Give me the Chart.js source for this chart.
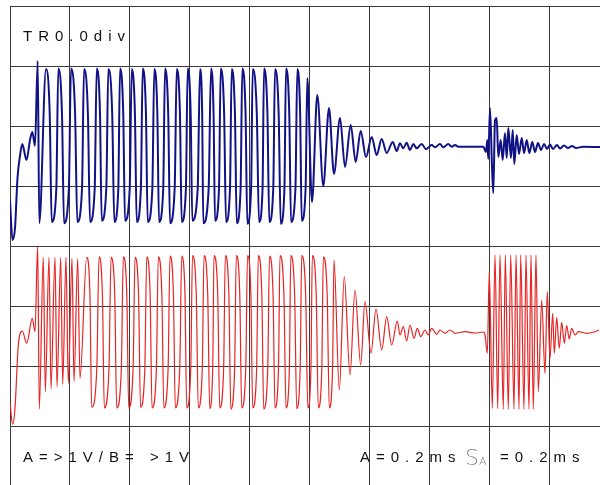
<!DOCTYPE html>
<html>
<head>
<meta charset="utf-8">
<script src="https://cdn.jsdelivr.net/npm/chart.js@4.4.1/dist/chart.umd.min.js"></script>
<style>
  html, body { margin: 0; padding: 0; background: #fff; }
  #scope { display: block; }
</style>
</head>
<body>
<canvas id="scope" width="600" height="485"></canvas>
<script>
// time in ms (0.2 ms/div), level in div (1 V/div), 0 = centre line
var xGrid = [0, 0.2, 0.4, 0.6, 0.8, 1.0, 1.2, 1.4, 1.6, 1.8];
var yGrid = [4, 3, 2, 1, 0, -1, -2, -3];

var labelTop = 'TR0.0div';
var labelVolts = 'A=>1V/B= >1V';
var labelTimeA = 'A=0.2ms';
var labelSample = 'S';
var labelSampleSub = 'A';
var labelTimeS = '=0.2ms';

// channel A (blue)
var aLead = [[0,0.767],[0.0083,0.1],[0.0167,0.3],[0.025,1.133],[0.0333,1.5],[0.041,1.7],[0.055,1.433],[0.0667,1.767],[0.0743,1.9],[0.0833,1.667],[0.0923,3.083],[0.0977,0.383]];
var aPeaks = [[0.12,2.95],[0.161,2.96],[0.2033,2.96],[0.2467,2.95],[0.289,2.96],[0.3277,2.95],[0.3667,2.96],[0.4057,2.95],[0.4423,2.96],[0.481,2.95],[0.5167,2.96],[0.5557,2.95],[0.5923,2.96],[0.6333,2.95],[0.67,2.96],[0.7023,2.96],[0.739,2.95],[0.7743,2.96],[0.809,2.95],[0.8467,2.96],[0.8833,2.95],[0.92,2.96],[0.9577,2.95]];
var aFallKnee = [[0.1324,2.2],[0.1734,2.18],[0.217,2.2],[0.2597,2.2],[0.2999,2.22],[0.3407,2.2],[0.3775,2.2],[0.4165,2.18],[0.4532,2.2],[0.4912,2.2],[0.5275,2.18],[0.5665,2.2],[0.6023,2.2],[0.6405,2.22],[0.6786,2.2],[0.7138,2.2],[0.7499,2.18],[0.7852,2.2],[0.8227,2.2],[0.8581,2.2],[0.8957,2.18],[0.9309,2.2],[0.9672,2.2]];
var aTroughs = [[0.139,0.4],[0.18,0.38],[0.2243,0.4],[0.2667,0.4],[0.3057,0.42],[0.3477,0.4],[0.3833,0.42],[0.4223,0.4],[0.459,0.4],[0.4967,0.4],[0.5333,0.38],[0.5723,0.4],[0.6077,0.42],[0.6443,0.38],[0.6833,0.42],[0.72,0.4],[0.7557,0.38],[0.791,0.37],[0.83,0.4],[0.8643,0.4],[0.9023,0.37],[0.9367,0.4],[0.9723,0.42]];
var aRiseKnee = [[0.1544,0.95],[0.1963,0.97],[0.24,0.95],[0.2823,0.95],[0.3211,0.97],[0.361,0.95],[0.399,0.95],[0.4363,0.97],[0.4744,0.95],[0.5107,0.95],[0.549,0.97],[0.5863,0.95],[0.6256,0.95],[0.6623,0.97],[0.6966,0.95],[0.7333,0.95],[0.7687,0.97],[0.8036,0.95],[0.8418,0.95],[0.8776,0.97],[0.9147,0.95],[0.9514,0.95],[0.9854,0.97]];
var aDecay = [[0.991,2.8],[1.0067,0.733],[1.0243,2.517],[1.0443,1.0],[1.0633,2.3],[1.08,1.2],[1.1,2.133],[1.1167,1.317],[1.1357,2.017],[1.1523,1.4],[1.169,1.917],[1.1867,1.483],[1.2057,1.817],[1.2223,1.517],[1.239,1.783],[1.2557,1.55],[1.2757,1.733],[1.289,1.583]];
var aRipple = [[1.3,1.712],[1.311,1.628],[1.3223,1.722],[1.3333,1.6],[1.3443,1.7],[1.3557,1.628],[1.3723,1.7],[1.3867,1.612],[1.4057,1.683],[1.4167,1.645],[1.4333,1.7],[1.4443,1.645],[1.461,1.7],[1.4723,1.655],[1.4833,1.683],[1.4943,1.655],[1.5777,1.655]];
var aBurst = [[1.5867,1.567],[1.591,1.767],[1.5943,1.45],[1.6,2.3],[1.6067,1.317],[1.611,0.883],[1.6167,2.1],[1.6223,2.133],[1.6277,1.483],[1.6357,1.767],[1.6423,1.433],[1.65,1.883],[1.6557,1.467],[1.661,1.967],[1.67,1.467],[1.6757,1.933],[1.681,1.367],[1.689,1.85],[1.6967,1.533],[1.7057,1.8],[1.7133,1.55],[1.7223,1.767],[1.731,1.55],[1.741,1.733],[1.75,1.567],[1.76,1.717],[1.77,1.6],[1.78,1.7],[1.79,1.617],[1.8,1.692],[1.81,1.617],[1.8233,1.683],[1.8333,1.625],[1.8467,1.675],[1.86,1.633],[1.8733,1.667],[1.8867,1.633],[1.91,1.655],[1.9667,1.65]];

// channel B (red)
var bLead = [[0,-2.617],[0.009,-2.972],[0.0167,-2.7],[0.0277,-1.65],[0.041,-1.417],[0.0557,-1.622],[0.0743,-1.205],[0.0833,-1.428],[0.0923,0.005],[0.0977,-2.717]];
var bDensePeaks = [[0.111,-0.19],[0.13,-0.19],[0.15,-0.19],[0.169,-0.19],[0.1867,-0.19],[0.2067,-0.2],[0.2257,-0.21],[0.2557,-0.19]];
var bDenseTroughs = [[0.1177,-2.428],[0.1367,-2.383],[0.1567,-2.345],[0.1757,-2.305],[0.1943,-2.288],[0.2133,-2.262],[0.2333,-2.205]];
var bPeaks = [[0.2967,-0.18],[0.3367,-0.19],[0.3777,-0.18],[0.4167,-0.19],[0.4557,-0.18],[0.4943,-0.18],[0.5333,-0.17],[0.5723,-0.17],[0.6083,-0.16],[0.6467,-0.16],[0.68,-0.16],[0.7177,-0.16],[0.7543,-0.16],[0.7917,-0.16],[0.8277,-0.16],[0.865,-0.17],[0.9,-0.16],[0.936,-0.16],[0.9723,-0.16],[1.0077,-0.16],[1.0443,-0.18]];
var bFallKnee = [[0.2665,-0.82],[0.3081,-0.82],[0.3491,-0.8],[0.3894,-0.82],[0.4286,-0.82],[0.4671,-0.8],[0.5063,-0.82],[0.5448,-0.82],[0.5832,-0.8],[0.6209,-0.82],[0.6591,-0.82],[0.6924,-0.8],[0.7296,-0.82],[0.766,-0.82],[0.8029,-0.8],[0.8394,-0.82],[0.8769,-0.82],[0.913,-0.8],[0.9488,-0.82],[0.9856,-0.82],[1.0207,-0.8],[1.0573,-0.82]];
var bTroughs = [[0.2723,-2.69],[0.3143,-2.7],[0.3557,-2.7],[0.3957,-2.7],[0.435,-2.69],[0.4733,-2.7],[0.5127,-2.7],[0.551,-2.7],[0.589,-2.7],[0.6277,-2.7],[0.6657,-2.71],[0.699,-2.7],[0.736,-2.72],[0.7723,-2.7],[0.809,-2.7],[0.8457,-2.72],[0.8833,-2.7],[0.92,-2.7],[0.9557,-2.71],[0.9927,-2.7],[1.0277,-2.7],[1.0643,-2.7]];
var bRiseKnee = [[0.2894,-2.03],[0.33,-2.03],[0.3711,-2.05],[0.4104,-2.03],[0.4495,-2.03],[0.488,-2.05],[0.5271,-2.03],[0.5659,-2.03],[0.6025,-2.05],[0.641,-2.03],[0.6757,-2.03],[0.7121,-2.05],[0.7488,-2.03],[0.7859,-2.03],[0.8221,-2.05],[0.8592,-2.03],[0.895,-2.03],[0.9312,-2.05],[0.9673,-2.03],[1.0032,-2.03],[1.0393,-2.05],[1.0753,-2.03]];
var bDecay = [[1.08,-0.233],[1.0977,-2.4],[1.1143,-0.512],[1.1333,-2.15],[1.15,-0.733],[1.169,-1.983],[1.1833,-0.928],[1.2033,-1.783],[1.22,-1.05],[1.239,-1.733],[1.2557,-1.178],[1.2723,-1.65],[1.291,-1.25]];
var bRipple = [[1.3,-1.483],[1.311,-1.345],[1.3223,-1.583],[1.3333,-1.317],[1.3467,-1.538],[1.3577,-1.372],[1.369,-1.512],[1.3833,-1.4],[1.3943,-1.483],[1.4057,-1.372],[1.4223,-1.472],[1.4333,-1.4],[1.45,-1.455],[1.4667,-1.4],[1.4833,-1.455],[1.5167,-1.428],[1.55,-1.45],[1.5777,-1.433]];
var bBurst = [[1.5833,-1.483],[1.591,-1.788],[1.5977,-0.428],[1.6077,-2.705],[1.6167,-0.15],[1.6257,-2.71],[1.6333,-0.15],[1.6443,-2.72],[1.651,-0.15],[1.661,-2.72],[1.669,-0.15],[1.68,-2.72],[1.6867,-0.15],[1.6967,-2.72],[1.7023,-0.15],[1.7133,-2.72],[1.72,-0.15],[1.73,-2.72],[1.7367,-0.15],[1.7443,-2.72],[1.7533,-0.15]];
var bTail = [[1.761,-2.428],[1.7723,-0.9],[1.7833,-2.122],[1.791,-0.762],[1.8,-1.872],[1.809,-1.122],[1.8143,-1.788],[1.8223,-1.195],[1.831,-1.705],[1.839,-1.272],[1.8477,-1.622],[1.8557,-1.328],[1.8643,-1.55],[1.8723,-1.372],[1.8833,-1.483],[1.8943,-1.428],[1.9223,-1.455],[1.9443,-1.438],[1.9633,-1.4]];

function trace(parts) {
  return [].concat.apply([], parts)
    .sort(function (a, b) { return a[0] - b[0]; })
    .map(function (p) { return {x: p[0], y: p[1]}; });
}

var traceA = trace([aLead, aPeaks, aFallKnee, aTroughs, aRiseKnee, aDecay, aRipple, aBurst]);
var traceB = trace([bLead, bDensePeaks, bDenseTroughs, bPeaks, bFallKnee, bTroughs, bRiseKnee, bDecay, bRipple, bBurst, bTail]);

// screen texts
var screenText = {
  id: 'screenText',
  afterDraw: function (chart) {
    var ctx = chart.ctx;
    ctx.save();
    ctx.fillStyle = '#111';
    ctx.textBaseline = 'alphabetic';
    ctx.font = '15px "Liberation Sans", Arial, sans-serif';
    ctx.letterSpacing = '6px';
    ctx.fillText(labelTop, 23, 41);
    ctx.fillText(labelVolts, 23, 462);
    ctx.fillText(labelTimeA, 360, 462);
    ctx.fillText(labelTimeS, 500, 462);
    ctx.letterSpacing = '0px';
    ctx.fillStyle = '#8a8a8a';
    ctx.font = '300 22px "DejaVu Sans", sans-serif';
    ctx.fillText(labelSample, 465, 465);
    ctx.font = '300 11px "DejaVu Sans", sans-serif';
    ctx.fillText(labelSampleSub, 479, 465);
    ctx.restore();
  }
};

var gridOpts = { color: '#3a3a3a', lineWidth: 1, drawTicks: false };

var scope = new Chart(document.getElementById('scope').getContext('2d'), {
  type: 'line',
  data: {
    datasets: [{
      data: traceB,
      borderColor: 'rgb(232, 36, 36)',
      borderWidth: 1.2,
      pointRadius: 0,
      cubicInterpolationMode: 'monotone'
    }, {
      data: traceA,
      borderColor: 'rgb(18, 18, 135)',
      borderWidth: 2,
      pointRadius: 0,
      cubicInterpolationMode: 'monotone'
    }]
  },
  options: {
    responsive: false,
    animation: false,
    layout: { padding: { left: 10, top: 6, right: 0, bottom: 0 } },
    plugins: { legend: { display: false }, tooltip: { enabled: false } },
    scales: {
      x: {
        type: 'linear',
        min: 0,
        max: 1.96667,
        grid: gridOpts,
        border: { display: false },
        ticks: { display: false },
        afterBuildTicks: function (scale) {
          scale.ticks = xGrid.map(function (v) { return {value: v}; });
        }
      },
      y: {
        type: 'linear',
        min: -3.98333,
        max: 4,
        grid: gridOpts,
        border: { display: false },
        ticks: { display: false },
        afterBuildTicks: function (scale) {
          scale.ticks = yGrid.map(function (v) { return {value: v}; });
        }
      }
    }
  },
  plugins: [screenText]
});
</script>
</body>
</html>
